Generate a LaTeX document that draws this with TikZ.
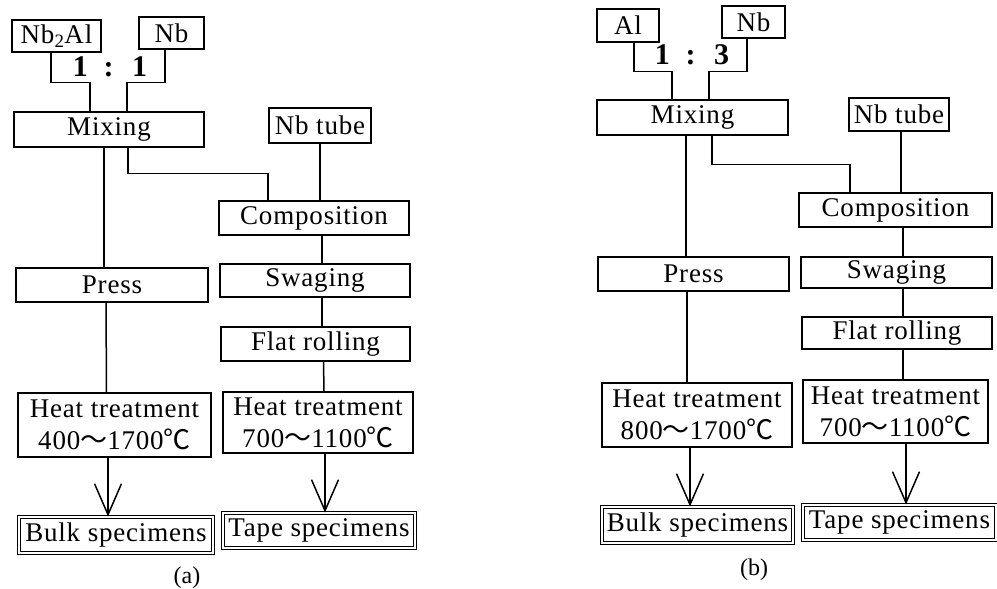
\documentclass[tikz,border=0pt]{standalone}
\usepackage{fontspec}
\setmainfont{Liberation Serif}
\newfontfamily\boxfont[LetterSpace=3]{Liberation Serif}
\newfontfamily\cjk{Noto Sans CJK JP}
\usetikzlibrary{arrows.meta}
\tikzset{
  stage/.style={draw, line width=1.3pt, inner sep=0pt, align=center,
    font=\fontsize{27}{32}\selectfont\boxfont},
  result/.style={stage, double, double distance=2.2pt, line width=0.9pt},
  ratio/.style={font=\fontsize{30}{32}\selectfont\bfseries},
  caption/.style={font=\fontsize{24}{26}\selectfont},
  link/.style={line width=1.5pt},
  flow/.style={link, -{Straight Barb[length=31pt,width=27pt]}}
}
\newcommand{\temprange}[2]{#1{\cjk ～}#2{\cjk ℃}}

\begin{document}
\begin{tikzpicture}[x=1pt,y=-1pt]
  \useasboundingbox (0,0) rectangle (997,589);
  % (a)
  \node[stage,minimum width=89,minimum height=32] (nbal) at (56.5,36) {Nb\textsubscript{2}Al};
  \node[stage,minimum width=65,minimum height=32] (nba) at (171.5,33) {Nb};
  \node[ratio] (ratioa) at (110,67) {1 \;: \;1};
  \node[stage,minimum width=190,minimum height=35] (mixa) at (109,129.5) {Mixing};
  \node[stage,minimum width=102,minimum height=35] (tubea) at (320,125.5) {Nb tube};
  \node[stage,minimum width=190,minimum height=34] (compa) at (314,218) {Composition};
  \node[stage,minimum width=192,minimum height=34] (pressa) at (112,285) {Press};
  \node[stage,minimum width=190,minimum height=33] (swaga) at (315,280.5) {Swaging};
  \node[stage,minimum width=189,minimum height=34] (flata) at (315.5,344) {Flat rolling};
  \node[stage,minimum width=193,minimum height=64] (heatal) at (114.5,425) {Heat treatment\\\temprange{400}{1700}};
  \node[stage,minimum width=190,minimum height=61] (heatar) at (318,422.5) {Heat treatment\\\temprange{700}{1100}};
  \node[result,minimum width=194,minimum height=36] (bulka) at (116,535) {Bulk specimens};
  \node[result,minimum width=192,minimum height=35] (tapea) at (319,530.5) {Tape specimens};
  \node[caption] (capa) at (187,578) {(a)};

  \draw[link] ([xshift=-5.5pt]nbal.south) -- ++(0,30) -| ([xshift=-19pt]mixa.north);
  \draw[link] ([xshift=-6.5pt]nba.south) -- ++(0,33) -| ([xshift=18pt]mixa.north);
  \draw[link] ([xshift=-5pt]mixa.south) -- ([xshift=-8pt]pressa.north);
  \draw[link] ([xshift=19pt]mixa.south) -- ++(0,26) -| ([xshift=-46pt]compa.north);
  \draw[link] (tubea.south) -- ([xshift=6pt]compa.north);
  \draw[link] ([xshift=8pt]compa.south) -- ([xshift=7pt]swaga.north);
  \draw[link] ([xshift=7pt]swaga.south) -- ([xshift=6.5pt]flata.north);
  \draw[link] ([xshift=8pt]flata.south) -- ([xshift=6pt]heatar.north);
  \draw[link] ([xshift=-6pt]pressa.south) -- ([xshift=-8pt]heatal.north);
  \draw[flow] ([xshift=-6.5pt]heatal.south) -- ([xshift=-8pt]bulka.north);
  \draw[flow] ([xshift=7pt]heatar.south) -- ([xshift=6pt]tapea.north);

  % (b)
  \node[stage,minimum width=62,minimum height=33] (alb) at (628,25.5) {Al};
  \node[stage,minimum width=63,minimum height=32] (nbb) at (753.5,22) {Nb};
  \node[ratio] (ratiob) at (692,55) {1 \;: \;3};
  \node[stage,minimum width=191,minimum height=35] (mixb) at (692.5,117.5) {Mixing};
  \node[stage,minimum width=100,minimum height=33] (tubeb) at (899,114.5) {Nb tube};
  \node[stage,minimum width=193,minimum height=34] (compb) at (895.5,210) {Composition};
  \node[stage,minimum width=191,minimum height=34] (pressb) at (693.5,274) {Press};
  \node[stage,minimum width=191,minimum height=31] (swagb) at (896.5,272.5) {Swaging};
  \node[stage,minimum width=190,minimum height=32] (flatb) at (897,333) {Flat rolling};
  \node[stage,minimum width=190,minimum height=64] (heatbl) at (697,415) {Heat treatment\\\temprange{800}{1700}};
  \node[stage,minimum width=185,minimum height=63] (heatbr) at (895.5,411.5) {Heat treatment\\\temprange{700}{1100}};
  \node[result,minimum width=191,minimum height=36] (bulkb) at (697.5,525) {Bulk specimens};
  \node[result,minimum width=193,minimum height=35] (tapeb) at (899.5,522.5) {Tape specimens};
  \node[caption] (capb) at (754,570) {(b)};

  \draw[link] ([xshift=6pt]alb.south) -- ++(0,29) -| ([xshift=-20.5pt]mixb.north);
  \draw[link] ([xshift=-6.5pt]nbb.south) -- ++(0,33) -| ([xshift=16.5pt]mixb.north);
  \draw[link] ([xshift=-6.5pt]mixb.south) -- ([xshift=-7.5pt]pressb.north);
  \draw[link] ([xshift=19.5pt]mixb.south) -- ++(0,29) -| ([xshift=-45.5pt]compb.north);
  \draw[link] ([xshift=2pt]tubeb.south) -- ([xshift=5.5pt]compb.north);
  \draw[link] ([xshift=7.5pt]compb.south) -- ([xshift=6.5pt]swagb.north);
  \draw[link] ([xshift=6.5pt]swagb.south) -- ([xshift=6pt]flatb.north);
  \draw[link] ([xshift=6pt]flatb.south) -- ([xshift=7.5pt]heatbr.north);
  \draw[link] ([xshift=-6.5pt]pressb.south) -- ([xshift=-10pt]heatbl.north);
  \draw[flow] ([xshift=-7pt]heatbl.south) -- ([xshift=-7.5pt]bulkb.north);
  \draw[flow] ([xshift=10.5pt]heatbr.south) -- ([xshift=6.5pt]tapeb.north);
\end{tikzpicture}
\end{document}
